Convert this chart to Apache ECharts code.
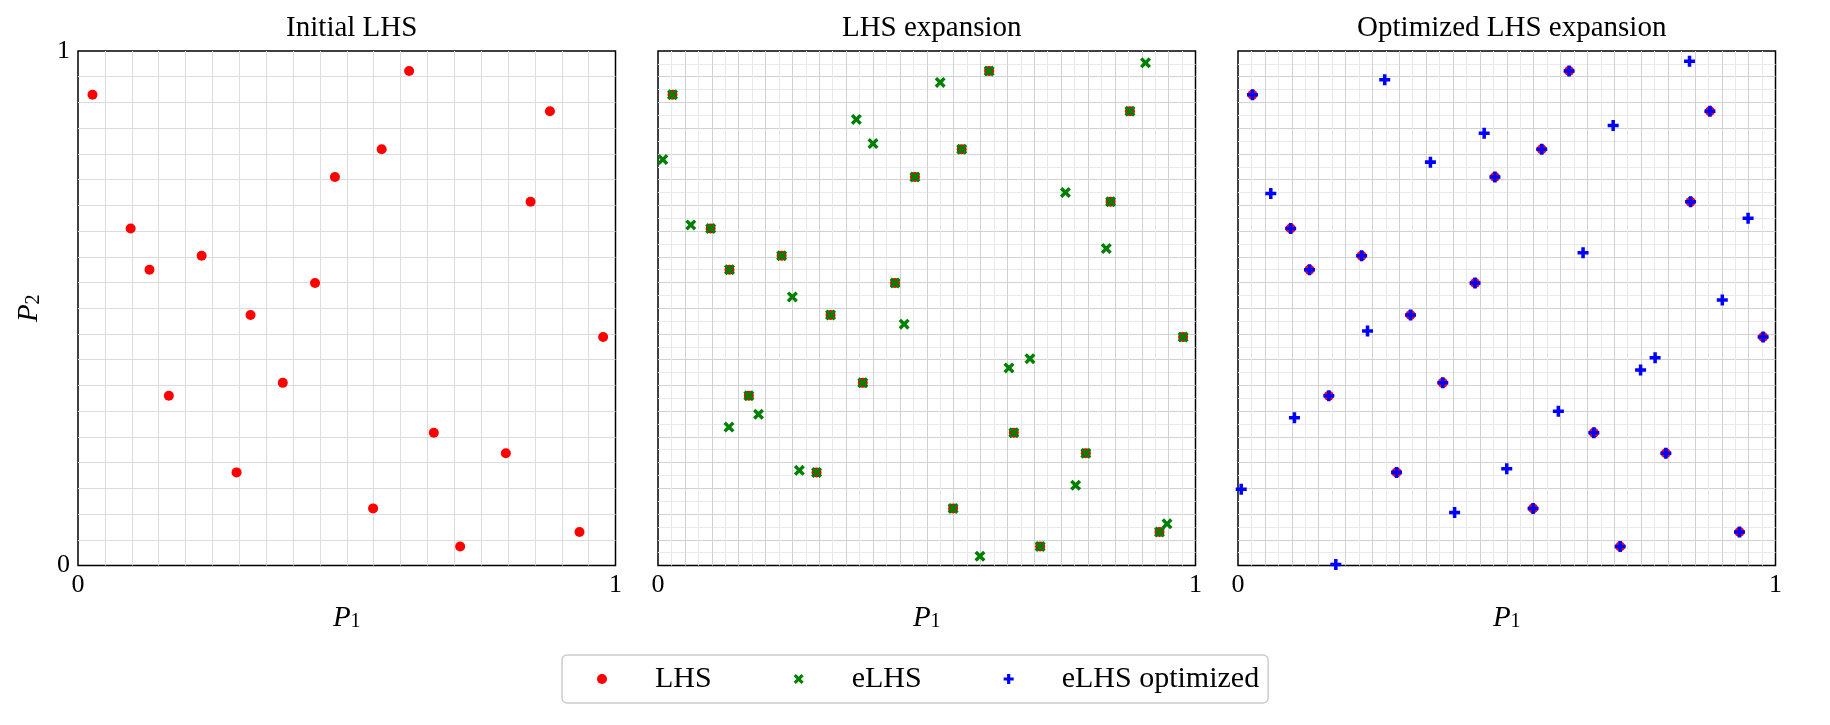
<!DOCTYPE html>
<html>
<head>
<meta charset="utf-8">
<script src="https://cdn.jsdelivr.net/npm/echarts@6/dist/echarts.min.js"></script>
<style>
  html, body { margin: 0; padding: 0; background: #fff; }
  #main { width: 1830px; height: 725px; }
</style>
</head>
<body>
<div id="main"></div>
<script>
// initial LHS (20 points)
var lhsX = [0.027, 0.098, 0.133, 0.169, 0.230, 0.295, 0.321, 0.381, 0.441, 0.478,
            0.549, 0.565, 0.616, 0.662, 0.711, 0.796, 0.842, 0.878, 0.933, 0.977];
var lhsY = [0.915, 0.655, 0.575, 0.330, 0.602, 0.181, 0.487, 0.355, 0.549, 0.755,
            0.111, 0.809, 0.961, 0.258, 0.037, 0.218, 0.707, 0.883, 0.065, 0.444];
// new points of the plain expansion
var elhsX = [0.009, 0.061, 0.132, 0.187, 0.250, 0.263, 0.369, 0.400, 0.458, 0.525,
             0.599, 0.653, 0.692, 0.758, 0.777, 0.834, 0.907, 0.947];
var elhsY = [0.789, 0.662, 0.269, 0.294, 0.522, 0.185, 0.867, 0.820, 0.469, 0.939,
             0.018, 0.384, 0.402, 0.725, 0.156, 0.616, 0.977, 0.081];
// new points of the optimized expansion
var optX = [0.006, 0.061, 0.105, 0.182, 0.241, 0.273, 0.358, 0.403, 0.458, 0.500,
            0.596, 0.642, 0.698, 0.749, 0.776, 0.840, 0.901, 0.949];
var optY = [0.148, 0.723, 0.287, 0.002, 0.456, 0.944, 0.784, 0.103, 0.840, 0.188,
            0.300, 0.608, 0.855, 0.380, 0.404, 0.980, 0.516, 0.675];
var titles = ['Initial LHS', 'LHS expansion', 'Optimized LHS expansion'];

function pairs(xs, ys) {
    return xs.map(function (x, i) { return [x, ys[i]]; });
}
var lhs = pairs(lhsX, lhsY);
var elhs = lhs.concat(pairs(elhsX, elhsY));
var opt = lhs.concat(pairs(optX, optY));

var FONT = '"Liberation Serif", "DejaVu Serif", serif';
// thick x and + markers
var crossPath = 'path://M0,2.2L2.2,0L5,2.8L7.8,0L10,2.2L7.2,5L10,7.8L7.8,10L5,7.2L2.2,10L0,7.8L2.8,5Z';
var plusPath = 'path://M3.4,0H6.6V3.4H10V6.6H6.6V10H3.4V6.6H0V3.4H3.4Z';

var lefts = [78, 658, 1238];
var W = 537.5, H = 514.5, TOP = 51;

var nameRich = {
    p: {fontFamily: FONT, fontSize: 29, fontStyle: 'italic', color: '#000', padding: [0, 0, 8, 0]},
    s: {fontFamily: FONT, fontSize: 20, color: '#000'}
};

var grids = [], xAxes = [], yAxes = [], titleArr = [];
lefts.forEach(function (l, i) {
    grids.push({
        left: l, top: TOP, width: W, height: H,
        show: true, borderColor: '#000', borderWidth: 1.5, backgroundColor: '#fff'
    });
    titleArr.push({
        text: titles[i], left: l + W / 2, top: 9, textAlign: 'center',
        textStyle: {fontFamily: FONT, fontSize: 29, fontWeight: 'normal', color: '#000'}
    });
    var fine = i > 0;
    var lbl = function (v) { return (Math.abs(v) < 1e-6 || Math.abs(v - 1) < 1e-6) ? String(Math.round(v)) : ''; };
    xAxes.push({
        gridIndex: i, type: 'value', min: 0, max: 1, interval: 0.05,
        name: '{p|P}{s|1}', nameLocation: 'middle', nameGap: 38,
        nameTextStyle: {rich: nameRich},
        axisLine: {show: false},
        axisTick: {show: false},
        axisLabel: {formatter: lbl, fontFamily: FONT, fontSize: 26, color: '#000', margin: 7, showMinLabel: true, showMaxLabel: true},
        splitLine: {show: true, showMinLine: false, showMaxLine: false, lineStyle: {color: fine ? '#d2d2d2' : '#dcdcdc', width: 1}},
        minorTick: {show: false, splitNumber: 2},
        minorSplitLine: {show: fine, lineStyle: {color: '#e9e9e9', width: 1}}
    });
    yAxes.push({
        gridIndex: i, type: 'value', min: 0, max: 1, interval: 0.05,
        name: i === 0 ? '{p|P}{s|2}' : '', nameLocation: 'middle', nameGap: 26,
        nameTextStyle: {rich: nameRich},
        axisLine: {show: false},
        axisTick: {show: false},
        axisLabel: {show: i === 0, formatter: lbl, fontFamily: FONT, fontSize: 26, color: '#000', margin: 8, showMinLabel: true, showMaxLabel: true},
        splitLine: {show: true, showMinLine: false, showMaxLine: false, lineStyle: {color: fine ? '#d2d2d2' : '#dcdcdc', width: 1}},
        minorTick: {show: false, splitNumber: 2},
        minorSplitLine: {show: fine, lineStyle: {color: '#e9e9e9', width: 1}}
    });
});

var series = [];
[0, 1, 2].forEach(function (i) {
    series.push({
        name: 'LHS', type: 'scatter', xAxisIndex: i, yAxisIndex: i,
        data: lhs, symbol: 'circle', symbolSize: 10,
        itemStyle: {color: '#ff0000', opacity: 1}, z: 3
    });
});
series.push({
    name: 'eLHS', type: 'scatter', xAxisIndex: 1, yAxisIndex: 1,
    data: elhs, symbol: crossPath, symbolSize: 11,
    itemStyle: {color: '#008000', opacity: 1}, z: 4
});
series.push({
    name: 'eLHS optimized', type: 'scatter', xAxisIndex: 2, yAxisIndex: 2,
    data: opt, symbol: plusPath, symbolSize: 11,
    itemStyle: {color: '#0000ff', opacity: 1}, z: 4
});

var chart = echarts.init(document.getElementById('main'), null, {renderer: 'canvas'});
chart.setOption({
    animation: false,
    backgroundColor: '#fff',
    title: titleArr,
    grid: grids,
    xAxis: xAxes,
    yAxis: yAxes,
    legend: {
        left: 562, top: 655,
        padding: [9, 9, 9, 35],
        itemWidth: 10, itemHeight: 10, itemGap: 82,
        borderColor: '#cccccc', borderWidth: 1.5, borderRadius: 5,
        selectedMode: false,
        data: ['LHS', 'eLHS', 'eLHS optimized'],
        textStyle: {fontFamily: FONT, fontSize: 30, color: '#000', padding: [0, 0, 0, 43]}
    },
    series: series
});
</script>
</body>
</html>
